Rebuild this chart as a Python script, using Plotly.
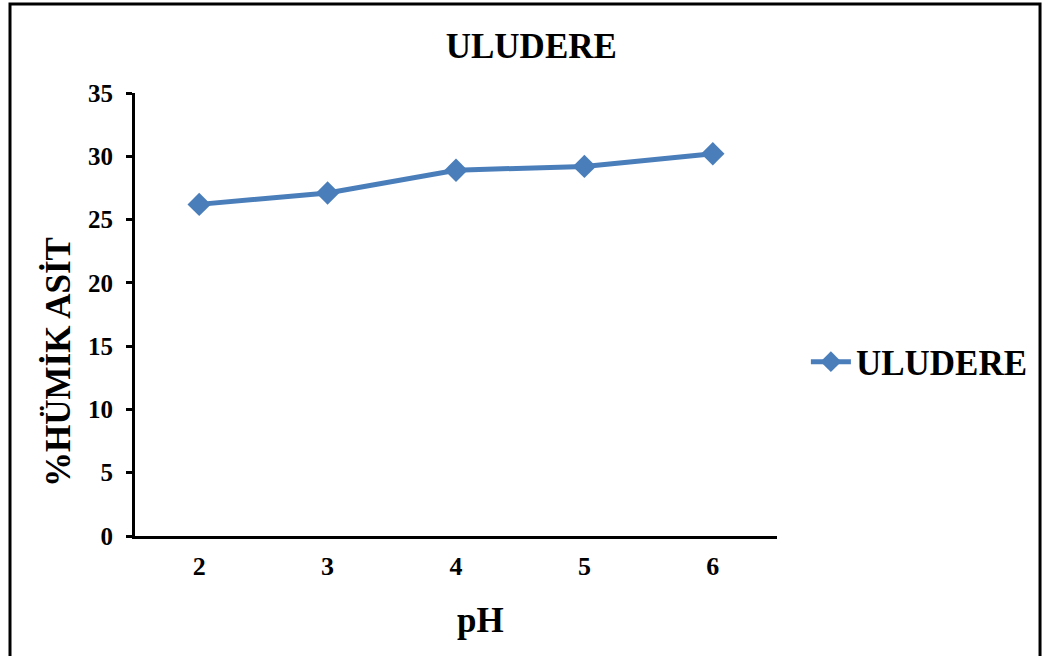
import plotly.graph_objects as go

# pH levels and humic acid percentages for Uludere
ph_levels = ["2", "3", "4", "5", "6"]
humic_acid = [26.2, 27.1, 28.9, 29.2, 30.2]
y_ticks = [0, 5, 10, 15, 20, 25, 30, 35]
series_name = "ULUDERE"
x_title = "pH"
y_title = "%HÜMİK ASİT"

SERIF = "Liberation Serif, Times New Roman, serif"
BLUE = "#4a7ebb"

fig = go.Figure()
fig.add_trace(go.Scatter(
    x=ph_levels,
    y=humic_acid,
    mode="lines+markers",
    name=f"<b>{series_name}</b>",
    line=dict(color=BLUE, width=5),
    marker=dict(symbol="diamond", size=18, color=BLUE),
))

fig.update_layout(
    width=1050,
    height=656,
    margin=dict(l=135, r=273, t=93, b=120),
    paper_bgcolor="white",
    plot_bgcolor="white",
    font=dict(family=SERIF, color="black"),
    showlegend=True,
    legend=dict(
        x=1.045, y=0.393, xanchor="left", yanchor="middle",
        font=dict(family=SERIF, size=35, color="black"),
        itemwidth=40,
    ),
    title=dict(
        text="<b>ULUDERE</b>",
        x=0.506, xref="container", xanchor="center",
        y=0.931, yref="container", yanchor="middle",
        font=dict(family=SERIF, size=35),
    ),
    xaxis=dict(
        type="category",
        range=[-0.5, 4.5],
        showgrid=False,
        showline=True, linecolor="black", linewidth=3,
        ticks="", tickfont=dict(family=SERIF, size=26),
        tickprefix="<b>", ticksuffix="</b>",
        ticklabelstandoff=5,
        zeroline=False,
    ),
    yaxis=dict(
        range=[0, 35],
        tickvals=y_ticks,
        ticktext=[f"<b>{v}</b>" for v in y_ticks],
        showgrid=False,
        showline=True, linecolor="black", linewidth=3,
        ticks="outside", ticklen=6, tickwidth=3, tickcolor="black",
        tickfont=dict(family=SERIF, size=25),
        ticklabelstandoff=8,
        zeroline=False,
    ),
)

# Axis titles placed as annotations
fig.add_annotation(
    text=f"<b>{x_title}</b>", xref="paper", yref="paper",
    x=(480 - 135) / 642, y=(536 - 620) / 443,
    xanchor="center", yanchor="middle", showarrow=False,
    font=dict(family=SERIF, size=35, color="black"),
)
fig.add_annotation(
    text=f"<b>{y_title}</b>", xref="paper", yref="paper",
    x=(58 - 135) / 642, y=(536 - 362) / 443,
    xanchor="center", yanchor="middle", showarrow=False, textangle=-90,
    font=dict(family=SERIF, size=35, color="black"),
)

# Outer frame around the whole chart
fig.add_shape(
    type="rect", xref="paper", yref="paper",
    x0=-0.1947, x1=1.4097, y0=-0.40, y1=1.2009,
    line=dict(color="black", width=3), fillcolor="rgba(0,0,0,0)",
    layer="below",
)

fig.write_html("out.html")
